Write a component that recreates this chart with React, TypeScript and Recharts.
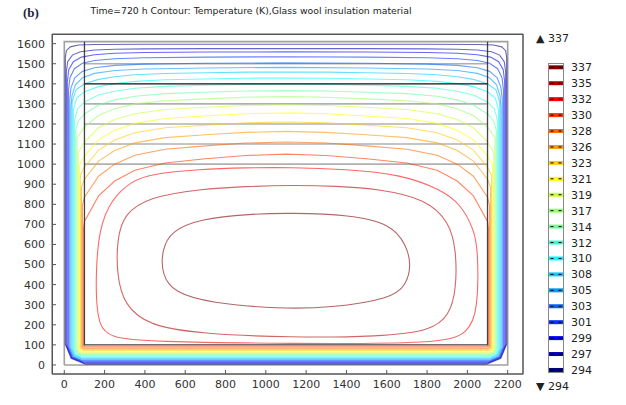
import React from 'react';
import { LineChart, Line, XAxis, YAxis } from 'recharts';

type P = [number, number];

// contour levels (K) and their colours, cold to hot
const levels = [294, 297, 299, 301, 303, 305, 308, 310, 312, 314, 317, 319, 321, 323, 326, 328, 330, 332, 335, 337];
const levelColors = [
  '#000080', '#0000b4', '#0000ff', '#0033ff', '#0066ff', '#0099ff', '#00ccff', '#00ffff', '#33ffcc', '#66ff99',
  '#99ff66', '#ccff33', '#ffff00', '#ffcc00', '#ff9900', '#ff6600', '#ff3300', '#ff0000', '#b40000', '#800000',
];

const xTicks = [0, 200, 400, 600, 800, 1000, 1200, 1400, 1600, 1800, 2000, 2200];
const yTicks = [0, 100, 200, 300, 400, 500, 600, 700, 800, 900, 1000, 1100, 1200, 1300, 1400, 1500, 1600];
const xDomain: P = [-61, 2276];
const yDomain: P = [-45, 1648];

// geometry of the model (mm)
const outerEdge: P[] = [[0, 0], [2200, 0], [2200, 1610], [0, 1610], [0, 0]];
const innerWall: P[] = [[100, 1610], [100, 100], [2100, 100], [2100, 1610]];
const grayLevels = [1000, 1100, 1200, 1300, 1500];
const blackLevel = 1400;

// contour paths, one per level
const c294: P[] = [[1100,1597],[400,1597],[150,1596],[70,1593],[30,1584],[10,1565],[5,1530],[5,104],[34,33],[105,4],[1100,4],[2095,4],[2166,33],[2195,104],[2195,1530],[2190,1565],[2170,1584],[2130,1593],[2050,1596],[1800,1597]];
const c297: P[] = [[1100,1575],[700,1575],[400,1574],[250,1572],[150,1568],[80,1560],[40,1543],[17,1510],[10,1460],[10,99],[36,35],[100,9],[1100,9],[2100,9],[2164,35],[2190,99],[2190,1460],[2183,1510],[2160,1543],[2120,1560],[2050,1568],[1950,1572],[1800,1574],[1500,1575]];
const c299: P[] = [[1100,1559],[700,1558],[400,1556],[250,1552],[150,1545],[85,1533],[45,1510],[22,1470],[15,1410],[15,94],[38,37],[95,14],[1100,14],[2105,14],[2162,37],[2185,94],[2185,1410],[2178,1470],[2155,1510],[2115,1533],[2050,1545],[1950,1552],[1800,1556],[1500,1558]];
const c301: P[] = [[1100,1535],[700,1533],[400,1530],[250,1525],[150,1516],[90,1502],[50,1475],[28,1430],[21,1370],[21,89],[41,39],[91,19],[1100,19],[2109,19],[2159,39],[2179,89],[2179,1370],[2172,1430],[2150,1475],[2110,1502],[2050,1516],[1950,1525],[1800,1530],[1500,1533]];
const c303: P[] = [[1100,1504],[700,1502],[400,1498],[250,1492],[150,1480],[90,1462],[52,1430],[33,1380],[27,1320],[27,84],[44,41],[87,24],[1100,24],[2113,24],[2156,41],[2173,84],[2173,1320],[2167,1380],[2148,1430],[2110,1462],[2050,1480],[1950,1492],[1800,1498],[1500,1502]];
const c305: P[] = [[1100,1482],[700,1479],[400,1474],[250,1466],[150,1452],[90,1430],[55,1395],[38,1340],[33,1280],[33,82],[48,45],[85,30],[1100,30],[2115,30],[2152,45],[2167,82],[2167,1280],[2162,1340],[2145,1395],[2110,1430],[2050,1452],[1950,1466],[1800,1474],[1500,1479]];
const c308: P[] = [[1100,1459],[900,1458],[700,1455],[500,1451],[350,1445],[250,1435],[170,1422],[100,1400],[58,1370],[39,1310],[39,80],[52,48],[84,35],[1100,35],[2116,35],[2148,48],[2161,80],[2161,1310],[2142,1370],[2100,1400],[2030,1422],[1950,1435],[1850,1445],[1700,1451],[1500,1455],[1300,1458]];
const c310: P[] = [[1100,1429],[900,1428],[700,1424],[500,1420],[350,1412],[250,1401],[170,1386],[100,1360],[62,1330],[45,1270],[45,78],[56,51],[83,40],[1100,40],[2117,40],[2144,51],[2155,78],[2155,1270],[2138,1330],[2100,1360],[2030,1386],[1950,1401],[1850,1412],[1700,1420],[1500,1424],[1300,1428]];
const c312: P[] = [[1100,1399],[900,1397],[700,1393],[500,1387],[350,1378],[250,1363],[170,1344],[100,1310],[66,1275],[51,1220],[51,78],[60,55],[83,46],[1100,46],[2117,46],[2140,55],[2149,78],[2149,1220],[2134,1275],[2100,1310],[2030,1344],[1950,1363],[1850,1378],[1700,1387],[1500,1393],[1300,1397]];
const c314: P[] = [[1100,1366],[900,1364],[700,1358],[500,1351],[350,1338],[250,1320],[170,1294],[100,1250],[70,1215],[57,1170],[57,78],[65,59],[84,51],[1100,51],[2116,51],[2135,59],[2143,78],[2143,1170],[2130,1215],[2100,1250],[2030,1294],[1950,1320],[1850,1338],[1700,1351],[1500,1358],[1300,1364]];
const c317: P[] = [[1100,1336],[900,1333],[700,1325],[500,1316],[350,1300],[250,1276],[170,1242],[100,1185],[63,1130],[63,78],[69,62],[85,56],[1100,56],[2115,56],[2131,62],[2137,78],[2137,1130],[2100,1185],[2030,1242],[1950,1276],[1850,1300],[1700,1316],[1500,1325],[1300,1333]];
const c319: P[] = [[1100,1296],[900,1292],[700,1283],[500,1272],[350,1251],[250,1222],[170,1181],[100,1110],[69,1060],[69,79],[74,66],[87,61],[1100,61],[2113,61],[2126,66],[2131,79],[2131,1060],[2100,1110],[2030,1181],[1950,1222],[1850,1251],[1700,1272],[1500,1283],[1300,1292]];
const c321: P[] = [[1100,1255],[900,1251],[700,1240],[500,1227],[350,1203],[250,1169],[170,1122],[100,1040],[75,995],[75,81],[79,70],[90,66],[1100,66],[2110,66],[2121,70],[2125,81],[2125,995],[2100,1040],[2030,1122],[1950,1169],[1850,1203],[1700,1227],[1500,1240],[1300,1251]];
const c323: P[] = [[1100,1210],[900,1206],[700,1194],[500,1181],[350,1156],[250,1120],[170,1070],[100,985],[80,945],[80,84],[83,75],[92,72],[1100,72],[2108,72],[2117,75],[2120,84],[2120,945],[2100,985],[2030,1070],[1950,1120],[1850,1156],[1700,1181],[1500,1194],[1300,1206]];
const c326: P[] = [[1100,1163],[900,1158],[700,1146],[500,1132],[350,1106],[250,1068],[170,1015],[100,925],[85,885],[85,88],[88,81],[95,78],[1100,78],[2105,78],[2112,81],[2115,88],[2115,885],[2100,925],[2030,1015],[1950,1068],[1850,1106],[1700,1132],[1500,1146],[1300,1158]];
const c328: P[] = [[1100,1110],[900,1105],[700,1091],[500,1074],[350,1044],[250,1000],[170,940],[100,835],[90,795],[90,92],[92,86],[98,84],[1100,84],[2102,84],[2108,86],[2110,92],[2110,795],[2100,835],[2030,940],[1950,1000],[1850,1044],[1700,1074],[1500,1091],[1300,1105]];
const c330: P[] = [[1100,1050],[900,1043],[700,1027],[500,1006],[350,970],[250,916],[170,842],[100,715],[95,680],[95,97],[97,93],[101,91],[1100,91],[2099,91],[2103,93],[2105,97],[2105,680],[2100,715],[2030,842],[1950,916],[1850,970],[1700,1006],[1500,1027],[1300,1043]];
const c332: P[] = [[1120,984],[1400,974],[1666,950],[1865,876],[1968,800],[2033,673],[2053,573],[2053,274],[2004,156],[1865,106],[1120,106],[426,116],[222,136],[172,199],[158,324],[158,474],[172,673],[232,826],[336,916],[425,950],[674,975],[900,982]];
const c335: P[] = [[1120,895],[1350,891],[1567,876],[1795,826],[1910,713],[1945,573],[1945,374],[1910,246],[1820,170],[1567,141],[1120,136],[674,156],[420,195],[296,299],[261,449],[261,623],[296,752],[420,836],[674,876],[900,889]];
const c337: P[] = [[1120,757],[1418,748],[1622,702],[1697,598],[1722,499],[1697,397],[1622,330],[1319,284],[1071,279],[723,309],[544,361],[484,449],[484,573],[530,667],[674,728],[922,752]];

const contours = [c294, c297, c299, c301, c303, c305, c308, c310, c312, c314, c317, c319, c321, c323, c326, c328, c330, c332, c335, c337];
const closedLoops = [332, 335, 337];

const toPts = (c: P[]) => c.map(([x, y]) => ({ x, y }));
const font = 'DejaVu Sans, Verdana, sans-serif';

function Overlay() {
  const top = levels.slice().reverse();
  const colors = levelColors.slice().reverse();
  return (
    <svg width={626} height={405} style={{ position: 'absolute', left: 0, top: 0, pointerEvents: 'none' }}>
      {/* axes box */}
      <rect x={52.5} y={34.5} width={470.5} height={339.5} fill="none" stroke="#555" />
      <text x={23} y={17} fontFamily="Liberation Serif, Times New Roman, serif" fontWeight="bold" fontSize={13} fill="#1c2440">(b)</text>
      <text x={251} y={14} textAnchor="middle" fontFamily={font} fontSize={9.3} fill="#222">
        Time=720 h Contour: Temperature (K),Glass wool insulation material
      </text>
      <text x={536} y={42} fontFamily={font} fontSize={11} fill="#222">▲ 337</text>
      <text x={536} y={390} fontFamily={font} fontSize={11} fill="#222">▼ 294</text>
      <rect x={548.5} y={63.5} width={15} height={309} fill="#fff" stroke="#888" />
      {top.map((lv, i) => {
        const y = 67.3 + i * 15.93;
        return (
          <g key={lv}>
            <rect x={549} y={y - 2} width={14} height={4} fill={colors[i]} />
            <line x1={550.5} x2={553.5} y1={y} y2={y} stroke="#000" />
            <line x1={558.5} x2={561.5} y1={y} y2={y} stroke="#000" />
            <text x={571} y={y + 4} fontFamily={font} fontSize={11} fill="#222">{lv}</text>
          </g>
        );
      })}
    </svg>
  );
}

export default function App() {
  const axisTick = { fill: '#333', fontSize: 11, fontFamily: font };
  return (
    <div style={{ position: 'absolute', left: 0, top: 0, width: 626, height: 405, background: '#fff' }}>
      <LineChart width={626} height={405} margin={{ top: 33, right: 102, bottom: 0, left: 0 }}>
        <XAxis xAxisId="b" dataKey="x" type="number" domain={xDomain} ticks={xTicks} interval={0}
          height={31} tickSize={-4} tickMargin={10} stroke="#555" tick={axisTick} />
        <XAxis xAxisId="t" dataKey="x" type="number" orientation="top" domain={xDomain} ticks={xTicks}
          interval={0} height={1} tickSize={-4} stroke="#555" tick={false} />
        <YAxis yAxisId="l" dataKey="y" type="number" domain={yDomain} ticks={yTicks} interval={0}
          width={52} tickSize={-4} tickMargin={11} stroke="#555" tick={axisTick} />
        <YAxis yAxisId="r" dataKey="y" type="number" orientation="right" domain={yDomain} ticks={yTicks}
          interval={0} width={1} tickSize={-4} stroke="#555" tick={false} />

        {grayLevels.map((g) => (
          <Line key={'g' + g} xAxisId="b" yAxisId="l" data={toPts([[100, g], [2100, g]])} dataKey="y"
            stroke="#b0b0b0" strokeWidth={1.6} dot={false} activeDot={false} isAnimationActive={false} />
        ))}
        <Line xAxisId="b" yAxisId="l" data={toPts(outerEdge)} dataKey="y" stroke="#a0a0a0" strokeWidth={1.6}
          dot={false} activeDot={false} isAnimationActive={false} />

        {contours.map((c, i) => (
          <Line key={'c' + levels[i]} xAxisId="b" yAxisId="l" data={toPts(c)} dataKey="y"
            type={closedLoops.includes(levels[i]) ? 'basisClosed' : 'linearClosed'}
            stroke={levelColors[i]} strokeOpacity={0.6} strokeWidth={1.1} dot={false} activeDot={false}
            isAnimationActive={false} />
        ))}

        <Line xAxisId="b" yAxisId="l" data={toPts([[100, blackLevel], [2100, blackLevel]])} dataKey="y"
          stroke="#111" strokeWidth={1.2} dot={false} activeDot={false} isAnimationActive={false} />
        <Line xAxisId="b" yAxisId="l" data={toPts(innerWall)} dataKey="y" stroke="#222" strokeWidth={1.3}
          strokeOpacity={0.85} dot={false} activeDot={false} isAnimationActive={false} />
      </LineChart>
      <Overlay />
    </div>
  );
}
